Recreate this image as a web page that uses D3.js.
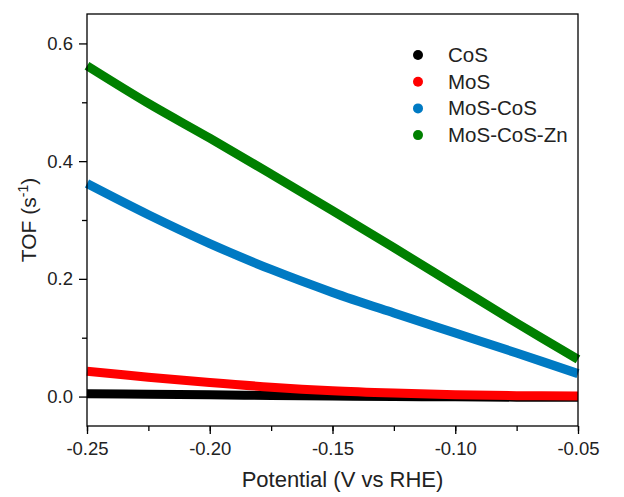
<!DOCTYPE html>
<html>
<head>
<meta charset="utf-8">
<script src="https://cdn.jsdelivr.net/npm/d3@7"></script>
<style>
  body { margin: 0; background: #fff; }
  text { font-family: "Liberation Sans", Arial, sans-serif; fill: #222; }
</style>
</head>
<body>
<script>
  // potential grid (V vs RHE)
  const potential = [-0.25, -0.225, -0.20, -0.175, -0.15, -0.125, -0.10, -0.075, -0.05];

  const tofCoS = [0.005, 0.004, 0.003, 0.002, 0.0008, 0.0, -0.0005, -0.001, -0.001];
  const tofMoS = [0.043, 0.033, 0.024, 0.016, 0.010, 0.006, 0.003, 0.0015, 0.001];
  const tofMoSCoS = [0.362, 0.309, 0.260, 0.216, 0.177, 0.142, 0.108, 0.074, 0.039];
  const tofMoSCoSZn = [0.562, 0.498, 0.439, 0.378, 0.316, 0.253, 0.189, 0.125, 0.063];

  const seriesNames = ['CoS', 'MoS', 'MoS-CoS', 'MoS-CoS-Zn'];
  const seriesColors = ['#000000', '#ff0000', '#007ac3', '#008000'];
  const seriesValues = [tofCoS, tofMoS, tofMoSCoS, tofMoSCoSZn];

  const xTicks = [-0.25, -0.20, -0.15, -0.10, -0.05];
  const yTicks = [0.0, 0.2, 0.4, 0.6];

  const width = 624;
  const height = 497;
  const margin = { top: 14, right: 46, bottom: 71, left: 87 };
  const font = '"Liberation Sans", Arial, sans-serif';

  const svg = d3.select('body')
          .append('svg')
          .attr('width', width)
          .attr('height', height);

  const x = d3.scaleLinear()
          .domain([-0.25, -0.05])
          .range([margin.left, width - margin.right]);

  const y = d3.scaleLinear()
          .domain([-0.05, 0.65])
          .range([height - margin.bottom, margin.top]);

  const line = d3.line()
          .x(d => x(d[0]))
          .y(d => y(d[1]))
          .curve(d3.curveCatmullRom);

  // curves
  svg.append('g')
          .selectAll('path')
          .data(seriesValues)
          .enter()
          .append('path')
          .attr('fill', 'none')
          .attr('stroke', (d, i) => seriesColors[i])
          .attr('stroke-width', 9)
          .attr('d', d => line(d.map((v, i) => [potential[i], v])));

  // frame
  svg.append('rect')
          .attr('x', x(-0.25))
          .attr('y', y(0.65))
          .attr('width', x(-0.05) - x(-0.25))
          .attr('height', y(-0.05) - y(0.65))
          .attr('fill', 'none')
          .attr('stroke', '#000')
          .attr('stroke-width', 1.3);

  const fmtX = d => d3.format('.2f')(d).replace('−', '-');

  // x axis
  const xAxis = svg.append('g')
          .attr('transform', `translate(0,${y(-0.05)})`);
  xAxis.append('g')
          .call(d3.axisBottom(x).tickValues(d3.range(-0.25, -0.049, 0.025)).tickSize(5).tickFormat(''))
          .call(g => g.select('.domain').remove());
  xAxis.append('g')
          .call(d3.axisBottom(x).tickValues(xTicks).tickSize(8).tickPadding(8).tickFormat(fmtX))
          .call(g => g.select('.domain').remove());
  xAxis.selectAll('line').attr('stroke', '#000').attr('stroke-width', 1.3);
  xAxis.selectAll('text').attr('font-size', 18.5).style('font-family', font).attr('fill', '#222');

  // y axis
  const yAxis = svg.append('g')
          .attr('transform', `translate(${x(-0.25)},0)`);
  yAxis.append('g')
          .call(d3.axisLeft(y).tickValues([0.1, 0.3, 0.5]).tickSize(5).tickFormat(''))
          .call(g => g.select('.domain').remove());
  yAxis.append('g')
          .call(d3.axisLeft(y).tickValues(yTicks).tickSize(8).tickPadding(6).tickFormat(d3.format('.1f')))
          .call(g => g.select('.domain').remove());
  yAxis.selectAll('line').attr('stroke', '#000').attr('stroke-width', 1.3);
  yAxis.selectAll('text').attr('font-size', 18.5).style('font-family', font).attr('fill', '#222');

  // axis titles
  svg.append('text')
          .attr('x', (x(-0.25) + x(-0.05)) / 2 + 10)
          .attr('y', 487)
          .attr('text-anchor', 'middle')
          .attr('font-size', 22)
          .text('Potential (V vs RHE)');

  const yTitle = svg.append('text')
          .attr('transform', `translate(36,${(y(-0.05) + y(0.65)) / 2}) rotate(-90)`)
          .attr('text-anchor', 'middle')
          .attr('font-size', 21);
  yTitle.append('tspan').text('TOF (s');
  yTitle.append('tspan').attr('font-size', 14).attr('dy', -8).text('-1');
  yTitle.append('tspan').attr('dy', 8).text(')');

  // legend
  const legend = svg.append('g')
          .selectAll('g')
          .data(seriesNames)
          .enter()
          .append('g')
          .attr('transform', (d, i) => `translate(418,${55 + i * 26.7})`);
  legend.append('circle')
          .attr('r', 5)
          .attr('fill', (d, i) => seriesColors[i]);
  legend.append('text')
          .attr('x', 30)
          .attr('y', 7)
          .attr('font-size', 20.5)
          .text(d => d);
</script>
</body>
</html>
